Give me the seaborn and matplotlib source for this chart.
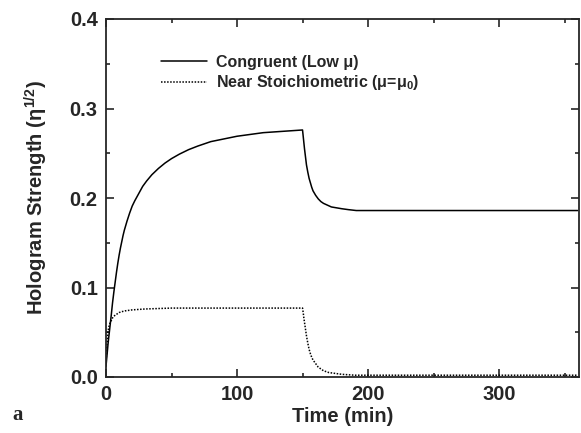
import matplotlib
matplotlib.use("Agg")
import matplotlib.pyplot as plt
import seaborn as sns
import pandas as pd
from matplotlib.ticker import MultipleLocator

# Data
congruent_t = [0, 0.5, 1, 1.5, 2, 3, 4, 5, 6, 7, 8, 9, 10, 11, 12, 13, 14, 16, 18, 20,
               22, 25, 28, 31, 35, 40, 45, 50, 56, 63, 70, 80, 90, 100, 110, 120,
               130, 140, 150,
               150.5, 151, 151.5, 152, 153, 154, 155, 156, 157, 158, 160, 162, 164,
               166, 169, 172, 176, 180, 185, 191, 360]
congruent_y = [0.012, 0.020, 0.028, 0.036, 0.043, 0.056, 0.069, 0.083, 0.095, 0.106,
               0.117, 0.127, 0.136, 0.144, 0.151, 0.158, 0.164, 0.174, 0.183, 0.191,
               0.197, 0.205, 0.213, 0.219, 0.226, 0.233, 0.239, 0.244, 0.249, 0.254,
               0.258, 0.263, 0.266, 0.269, 0.271, 0.273, 0.274, 0.275, 0.276,
               0.269, 0.262, 0.255, 0.249, 0.237, 0.229, 0.222, 0.217, 0.212, 0.208,
               0.203, 0.199, 0.196, 0.194, 0.192, 0.190, 0.189, 0.188, 0.187, 0.186,
               0.186]

stoich_t = [0, 0.5, 1, 1.5, 2, 3, 4, 5, 6, 7, 8, 10, 12, 15, 20, 30, 50, 150,
            150.5, 151, 152, 153, 154, 155, 156, 157, 158, 160, 162, 164, 166, 170,
            175, 180, 190, 360]
stoich_y = [0.015, 0.030, 0.041, 0.050, 0.055, 0.060, 0.063, 0.066, 0.068, 0.069,
            0.070, 0.072, 0.073, 0.074, 0.075, 0.076, 0.077, 0.077,
            0.072, 0.066, 0.056, 0.046, 0.038, 0.031, 0.026, 0.022, 0.019, 0.015,
            0.011, 0.009, 0.007, 0.005, 0.004, 0.003, 0.002, 0.002]

labels = ["Congruent (Low μ)", "Near Stoichiometric (μ=μ$_0$)"]
x_ticks = [0, 100, 200, 300]
y_ticks = [0.0, 0.1, 0.2, 0.3, 0.4]

sns.set_style("ticks")
plt.rcParams["font.family"] = ["Liberation Sans", "DejaVu Sans"]
plt.rcParams["font.weight"] = "bold"
plt.rcParams["mathtext.default"] = "regular"

fig = plt.figure(figsize=(5.81, 4.33), dpi=100)
ax = fig.add_axes([106 / 581, 1 - 377 / 433, (579 - 106) / 581, (377 - 19) / 433])

df1 = pd.DataFrame({"t": congruent_t, "y": congruent_y})
df2 = pd.DataFrame({"t": stoich_t, "y": stoich_y})
sns.lineplot(data=df1, x="t", y="y", ax=ax, color="black", lw=1.1, label=labels[0])
sns.lineplot(data=df2, x="t", y="y", ax=ax, color="black", lw=1.1,
             linestyle=(0, (1, 1)), label=labels[1])

ax.set_xlim(0, 361)
ax.set_ylim(0, 0.4)
ax.set_xticks(x_ticks)
ax.set_xticklabels([str(v) for v in x_ticks])
ax.set_yticks(y_ticks)
ax.set_yticklabels([f"{v:.1f}" for v in y_ticks])
ax.xaxis.set_minor_locator(MultipleLocator(50))
ax.yaxis.set_minor_locator(MultipleLocator(0.05))
ax.tick_params(which="both", direction="in", top=True, right=True, width=1.2)
ax.tick_params(which="major", length=6, labelsize=14.5, pad=6)
ax.tick_params(which="minor", length=3)
for lab in ax.get_xticklabels() + ax.get_yticklabels():
    lab.set_fontweight("bold")
for s in ax.spines.values():
    s.set_linewidth(1.3)

ax.set_xlabel("Time (min)", fontsize=14.5, fontweight="bold", labelpad=2)
ax.set_ylabel("Hologram Strength (η$^{1/2}$)", fontsize=14.5, fontweight="bold", labelpad=14)

leg = ax.legend(loc="upper left", bbox_to_anchor=(0.085, 0.94), frameon=False,
                prop={"size": 11.5, "weight": "bold"}, handlelength=2.9,
                handletextpad=0.55, labelspacing=0.22)

fig.text(12 / 581, 1 - 420 / 433, "a", family="Liberation Serif", fontweight="bold",
         fontsize=15, va="baseline")

fig.savefig("out.png", dpi=100)
